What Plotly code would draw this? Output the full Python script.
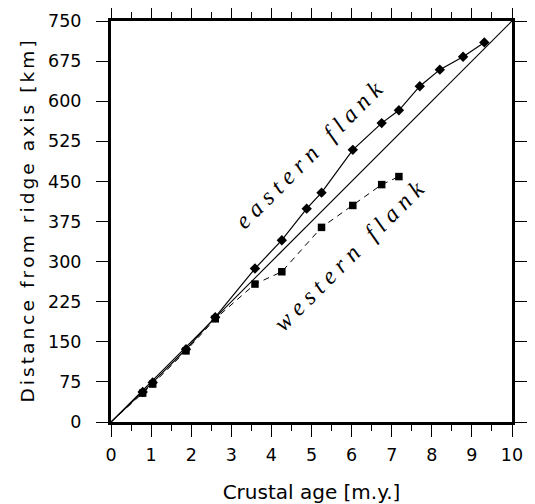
import plotly.graph_objects as go

# Eastern flank (diamonds, solid line)
east_age = [0.79, 1.04, 1.87, 2.60, 3.59, 4.26, 4.88, 5.25, 6.03, 6.75, 7.18, 7.70, 8.20, 8.78, 9.31]
east_dist = [56, 74, 136, 196, 287, 340, 399, 429, 509, 559, 583, 628, 659, 683, 710]

# Western flank (squares, dashed line)
west_age = [0.79, 1.04, 1.87, 2.60, 3.59, 4.26, 5.25, 6.03, 6.75, 7.18]
west_dist = [54, 71, 133, 193, 258, 281, 364, 405, 444, 459]

# Reference line (75 km/m.y.)
ref_age = [0, 10]
ref_dist = [0, 750]

x_ticks = list(range(0, 11))
y_ticks = list(range(0, 751, 75))

fig = go.Figure()

fig.add_trace(go.Scatter(x=ref_age, y=ref_dist, mode="lines",
                         line=dict(color="black", width=1.2), showlegend=False, hoverinfo="skip"))
fig.add_trace(go.Scatter(x=[0] + west_age, y=[0] + west_dist, mode="lines",
                         line=dict(color="black", width=1, dash="6px,5px"), showlegend=False))
fig.add_trace(go.Scatter(x=west_age, y=west_dist, mode="markers",
                         marker=dict(symbol="square", size=7.5, color="black"), showlegend=False))
fig.add_trace(go.Scatter(x=[0] + east_age, y=[0] + east_dist, mode="lines",
                         line=dict(color="black", width=1.2), showlegend=False))
fig.add_trace(go.Scatter(x=east_age, y=east_dist, mode="markers",
                         marker=dict(symbol="diamond", size=8, color="black"), showlegend=False))

sp = "\u00a0"
east_label = sp.join("eastern") + sp * 3 + sp.join("flank")
west_label = sp.join("western") + sp * 3 + sp.join("flank")
label_font = dict(family="Liberation Serif", size=24, color="black", style="italic")
fig.add_annotation(x=4.93, y=500, xref="x", yref="y", text=east_label, showarrow=False,
                   textangle=-45, font=label_font)
fig.add_annotation(x=5.93, y=311, xref="x", yref="y", text=west_label, showarrow=False,
                   textangle=-45, font=label_font)

axis_common = dict(
    showgrid=False, zeroline=False, showline=True, linecolor="black", linewidth=3,
    mirror="ticks", ticks="outside", ticklen=12, tickwidth=1.3, tickcolor="black",
    automargin=False,
    tickfont=dict(family="DejaVu Sans", size=17.5, color="black"),
)

y_title = "\u2006".join("Distance from ridge axis [km]")

fig.update_xaxes(**axis_common, range=[0, 10], tickvals=x_ticks,
                 ticktext=[str(v) for v in x_ticks], ticklabelstandoff=3,
                 minor=dict(dtick=0.5, ticklen=6, tickwidth=1.3, tickcolor="black", ticks="outside"),
                 title=dict(text="Crustal age [m.y.]", standoff=28,
                            font=dict(family="DejaVu Sans", size=20, color="black")))
fig.update_yaxes(**axis_common, range=[0, 750], tickvals=y_ticks,
                 ticktext=[str(v) for v in y_ticks], ticklabelstandoff=11,
                 title=dict(text=y_title, standoff=9,
                            font=dict(family="DejaVu Sans", size=18.5, color="black")))

# page body has an 8px margin; size the figure so the plot frame lands where the reference has it
fig.update_layout(width=519, height=496, margin=dict(l=103, r=15, t=13, b=82),
                  plot_bgcolor="white", paper_bgcolor="white")

fig.write_html("out.html")
